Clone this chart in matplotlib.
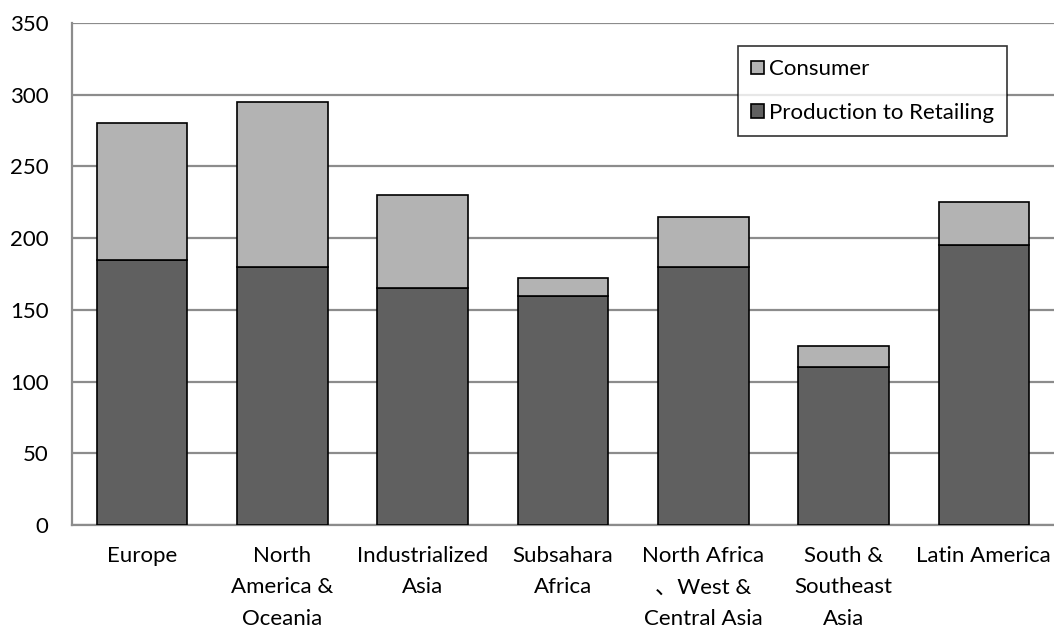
import matplotlib
matplotlib.use("Agg")
import matplotlib.pyplot as plt
import numpy as np

plt.rcParams['font.family'] = ['Lato', 'Noto Sans CJK JP', 'DejaVu Sans']

regions = ["Europe", "North\nAmerica &\nOceania", "Industrialized\nAsia",
           "Subsahara\nAfrica", "North Africa\n、West &\nCentral Asia",
           "South &\nSoutheast\nAsia", "Latin America"]
production_to_retailing = [185, 180, 165, 160, 180, 110, 195]
consumer = [95, 115, 65, 12, 35, 15, 30]
y_ticks = [0, 50, 100, 150, 200, 250, 300, 350]

fig = plt.figure(figsize=(10.54, 6.3), dpi=100)
ax = fig.add_axes([72 / 1054, 1 - 525 / 630, 1 - 72 / 1054, (525 - 23) / 630])

x = np.arange(len(regions))
w = 0.645
ax.bar(x, production_to_retailing, width=w, color="#606060", edgecolor="black",
       linewidth=1.2, label="Production to Retailing", zorder=3)
ax.bar(x, consumer, width=w, bottom=production_to_retailing, color="#b3b3b3",
       edgecolor="black", linewidth=1.2, label="Consumer", zorder=3)

ax.set_xlim(-0.5, len(regions) - 0.5)
ax.set_ylim(0, 350)
ax.set_yticks(y_ticks)
ax.set_xticks(x)
ax.set_xticklabels(regions, fontsize=16, linespacing=1.72, color="black")
ax.tick_params(axis="y", labelsize=16, length=0, pad=17, colors="black")
ax.tick_params(axis="x", length=0, pad=15)

ax.yaxis.grid(True, color="#8c8c8c", linewidth=1.6, zorder=0)
ax.set_axisbelow(True)
for s in ["top", "right"]:
    ax.spines[s].set_visible(False)
for s in ["left", "bottom"]:
    ax.spines[s].set_color("#8c8c8c")
    ax.spines[s].set_linewidth(1.6)

handles, labels = ax.get_legend_handles_labels()
leg = ax.legend(handles[::-1], labels[::-1], loc="upper left",
                bbox_to_anchor=((738 - 72) / 982, 1 - (46 - 23) / 502),
                fontsize=16, frameon=True, fancybox=False, edgecolor="black",
                handlelength=0.55, handleheight=0.55, handletextpad=0.25,
                labelspacing=1.05, borderpad=0.6, borderaxespad=0)
leg.get_frame().set_linewidth(1.2)

fig.savefig("out.png", dpi=100)
